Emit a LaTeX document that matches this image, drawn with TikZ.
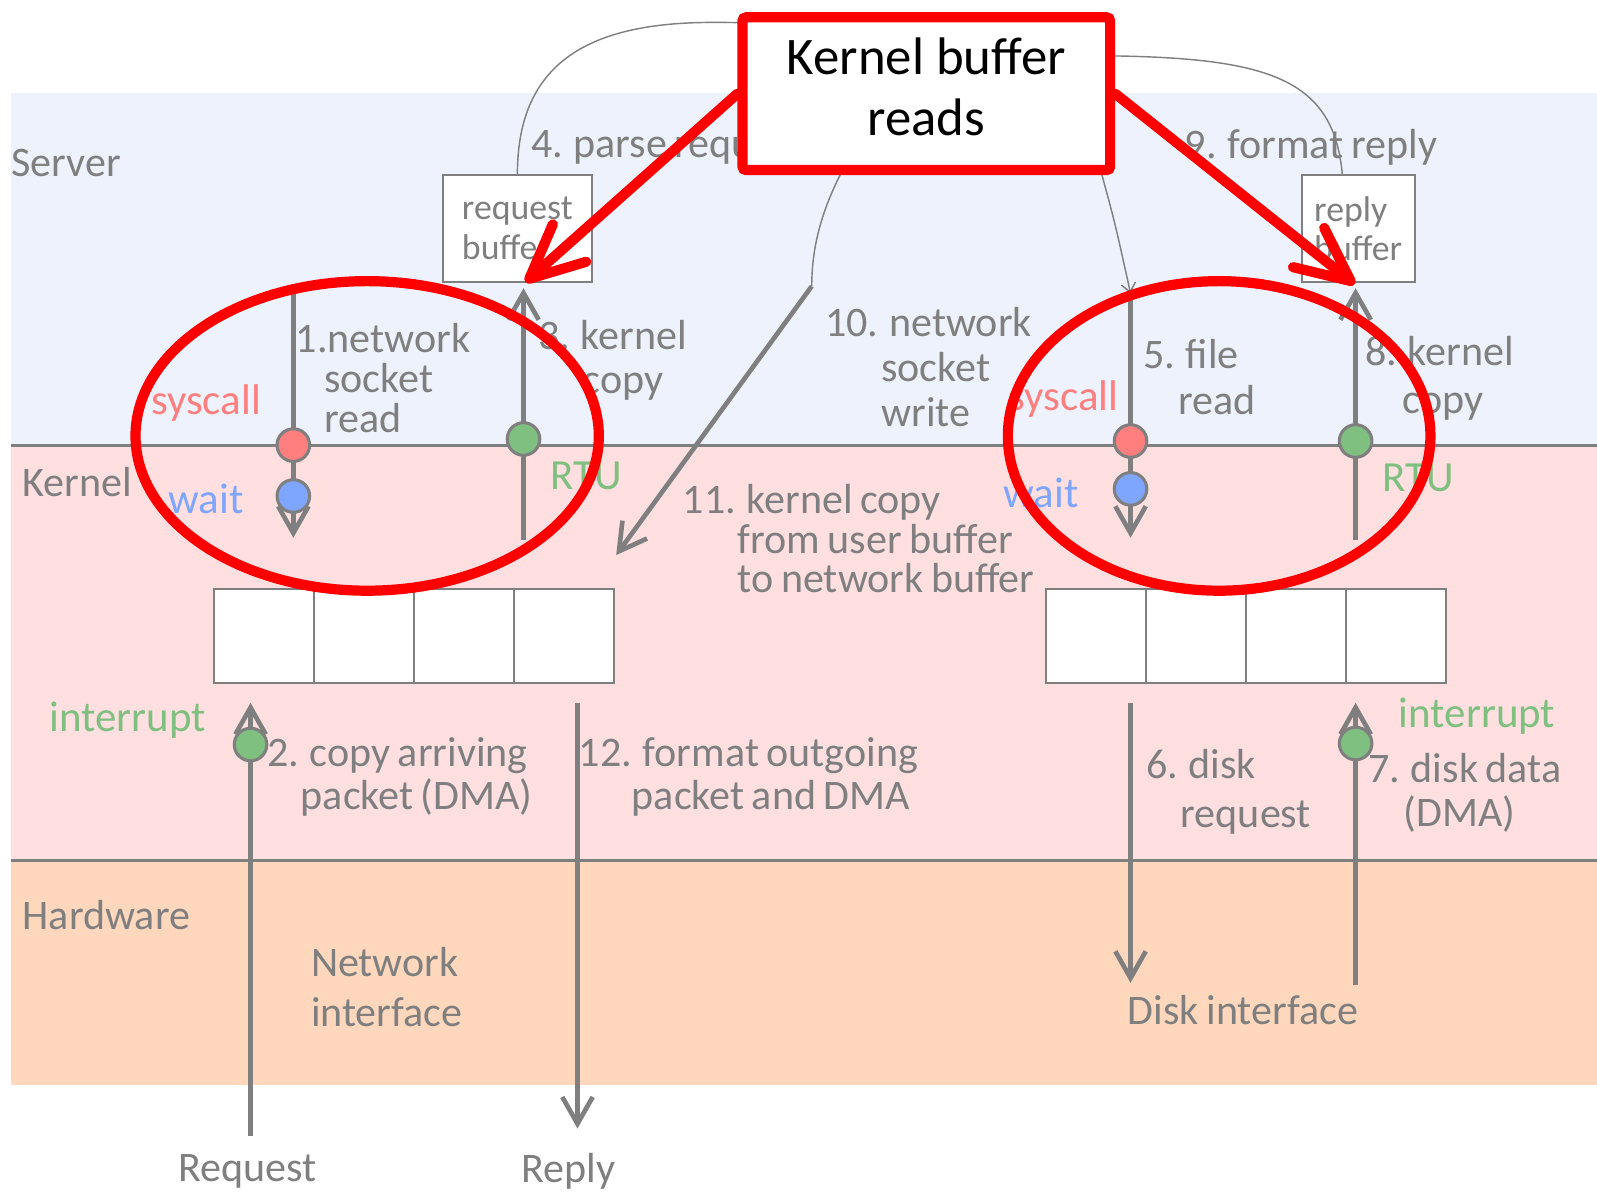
\documentclass[tikz,border=0pt]{standalone}
\usepackage{fontspec}
\setmainfont{Carlito}
\usetikzlibrary{arrows.meta}

\definecolor{gry}{HTML}{7F7F7F}
\definecolor{srvbg}{HTML}{EEF2FD}
\definecolor{krnbg}{HTML}{FFDFE0}
\definecolor{hwbg}{HTML}{FFD7BD}
\definecolor{callred}{HTML}{FF7F7F}
\definecolor{waitblue}{HTML}{7FA6FF}
\definecolor{rtugreen}{HTML}{7FBF7F}
\definecolor{markred}{HTML}{FF0000}

\begin{document}
\begin{tikzpicture}[x=0.02cm, y=-0.02cm,
    lbl/.style={text=gry, align=left, anchor=west, inner sep=0pt, font={\fontsize{23.5}{#1}\selectfont\lineskiplimit=-30pt\spaceskip=0.18em plus 0.05em}},
    lbl/.default=22.2,
    tag/.style={anchor=west, inner sep=0pt, font=\fontsize{24}{24}\selectfont},
    bufbox/.style={draw=gry, fill=white, line width=1.2pt, align=left, text=gry, minimum height=2.1cm, font={\fontsize{20}{22.2}\selectfont}},
    cell/.style={draw=gry, fill=white, line width=1.2pt, minimum width=1.965cm, minimum height=1.86cm, inner sep=0pt},
    dot/.style={circle, draw=gry, line width=1.7pt, minimum size=0.64cm, inner sep=0pt},
    arrow/.style={draw=gry, line width=2.6pt, -{Straight Barb[length=15pt,width=17pt]}},
    thin/.style={draw=gry, line width=0.8pt},
    redbox/.style={draw=markred, fill=white, line width=5.7pt, rounded corners=2pt, minimum width=7.22cm, minimum height=3cm},
    redarrow/.style={draw=markred, line width=5.7pt, line cap=round, -{Straight Barb[length=30pt,width=28pt,round]}}
]
\useasboundingbox (0,0) rectangle (1568,1170);

% layers
\fill[srvbg] (11,91) rectangle (1568,437);
\fill[krnbg] (11,437) rectangle (1568,845);
\fill[hwbg] (11,845) rectangle (1568,1065);
\draw[gry, line width=1.7pt] (11,437) -- (1568,437);
\draw[gry, line width=1.7pt] (11,845) -- (1568,845);

\node[lbl] (server) at (11,160) {Server};
\node[lbl] (kernel) at (22,473) {Kernel};
\node[lbl] (hardware) at (22,898) {Hardware};

% buffers
\node[bufbox, minimum width=2.92cm] (reqbuf) at (508,224.5) {request\\buffer};
\node[bufbox, minimum width=2.22cm] (repbuf) at (1333.5,224.5) {reply\\buffer};
\foreach \i in {1,...,4} {
  \node[cell] (nb\i) at ({210+98.25*(\i-0.5)},624.5) {};
  \node[cell] (db\i) at ({1027+98.25*(\i-0.5)},624.5) {};
}

% step labels
\node[lbl] (l4) at (521,145) {4. parse request};
\node[lbl] (l9) at (1163,145) {9. format reply};
\node[lbl] (l1) at (290,371) {1.network\\\hspace*{0.56cm}socket\\\hspace*{0.56cm}read};
\node[lbl=24.5] (l3) at (528,353.5) {3. kernel\\\hspace*{0.88cm}copy};
\node[lbl=25.3] (l10) at (810,360.5) {10. network\\\hspace*{1.1cm}socket\\\hspace*{1.1cm}write};
\node[lbl=25.6] (l5) at (1122,370.5) {5. file\\\hspace*{0.7cm}read};
\node[lbl=26.7] (l8) at (1340,371.5) {8. kernel\\\hspace*{0.74cm}copy};
\node[lbl] (l11) at (670,529) {11. kernel copy\\\hspace*{1.08cm}from user buffer\\\hspace*{1.08cm}to network buffer};
\node[lbl=23.9] (l2) at (262,763) {2. copy arriving\\\hspace*{0.66cm}packet (DMA)};
\node[lbl=23.9] (l12) at (568,763) {12. format outgoing\\\hspace*{1.04cm}packet and DMA};
\node[lbl=27.3] (l6) at (1125,777) {6. disk\\\hspace*{0.68cm}request};
\node[lbl=24.5] (l7) at (1343,778.5) {7. disk data\\\hspace*{0.7cm}(DMA)};
\node[lbl=27.9] (nic) at (305,969.5) {Network\\interface};
\node[lbl] (disk) at (1107,992) {Disk interface};
\node[lbl] (request) at (175,1150) {Request};
\node[lbl] (reply) at (512,1150) {Reply};

\node[tag, text=callred] (sc1) at (148,396) {syscall};
\node[tag, text=callred] (sc2) at (990,392) {syscall};
\node[tag, text=waitblue] (wt1) at (165,490) {wait};
\node[tag, text=waitblue] (wt2) at (985,484) {wait};
\node[tag, text=rtugreen] (rtu1) at (540,467) {RTU};
\node[tag, text=rtugreen] (rtu2) at (1357,469) {RTU};
\node[tag, text=rtugreen] (int1) at (48,707) {interrupt};
\node[tag, text=rtugreen] (int2) at (1373,703) {interrupt};

% arrow ends
\coordinate (s1top) at (288,281);   \coordinate (s1end) at (288,528);
\coordinate (k3bot) at (514,530);   \coordinate (k3end) at (514,283);
\coordinate (s5top) at (1110,288);  \coordinate (s5end) at (1110,528);
\coordinate (k8bot) at (1331,530);  \coordinate (k8end) at (1331,283);
\coordinate (w10top) at (797,281);  \coordinate (w10end) at (605,545);
\coordinate (reqin) at (246,1115);  \coordinate (reqend) at (246,690);
\coordinate (repout) at (567,690);  \coordinate (repend) at (567,1108);
\coordinate (dreq) at (1110,690);   \coordinate (dreqend) at (1110,965);
\coordinate (ddata) at (1331,967);  \coordinate (ddataend) at (1331,690);
\coordinate (rbtop) at (1318,172);

% thin links
\draw[thin, -{Straight Barb[length=5pt,width=8pt]}] (reqbuf.north) .. controls (508,60) and (580,22) .. (700,22)
  .. controls (1000,22) and (1060,100) .. (1082,172) .. controls (1095,220) .. (s5top);
\draw[thin] (rbtop) .. controls (1310,80) and (1250,58) .. (1100,55) -- (900,55)
  .. controls (840,140) and (797,200) .. (w10top);

% flows
\draw[arrow] (s1top) -- (s1end);
\draw[arrow] (k3bot) -- (k3end);
\draw[arrow] (s5top) -- (s5end);
\draw[arrow] (k8bot) -- (k8end);
\draw[arrow] (w10top) -- (w10end);
\draw[arrow] (reqin) -- (reqend);
\draw[arrow] (repout) -- (repend);
\draw[arrow] (dreq) -- (dreqend);
\draw[arrow] (ddata) -- (ddataend);

\node[dot, fill=callred] (c1) at (288,437) {};
\node[dot, fill=waitblue] (w1) at (288,487) {};
\node[dot, fill=rtugreen] (g3) at (514,431) {};
\node[dot, fill=callred] (c5) at (1110,433) {};
\node[dot, fill=waitblue] (w5) at (1110,480) {};
\node[dot, fill=rtugreen] (g8) at (1331,433) {};
\node[dot, fill=rtugreen] (g2) at (246,731) {};
\node[dot, fill=rtugreen] (g7) at (1331,730) {};

% highlights
\draw[markred, line width=5.7pt] (360.5,428) ellipse [x radius=4.55cm, y radius=3.04cm];
\draw[markred, line width=5.7pt] (1197,428) ellipse [x radius=4.15cm, y radius=3.04cm];
\node[redbox] (kbr) at (909.5,92) {};
\node[align=center, font={\fontsize{29.5}{34}\selectfont}] (kbrtxt) at (909.5,85) {Kernel buffer\\reads};
\coordinate (reqtip) at (516,277);
\coordinate (reptip) at (1330,279);
\draw[redarrow] (kbr.west) -- (reqtip);
\draw[redarrow] (kbr.east) -- (reptip);
\end{tikzpicture}
\end{document}
